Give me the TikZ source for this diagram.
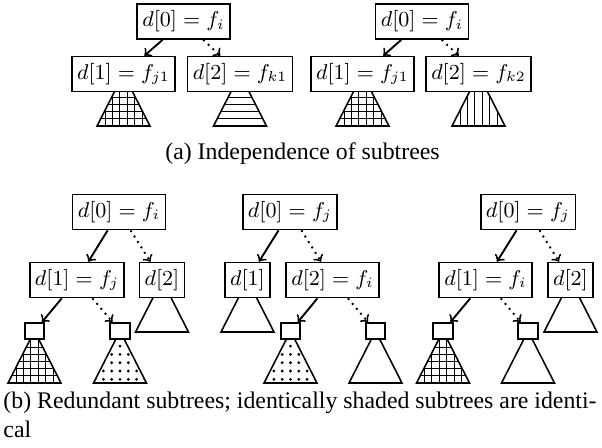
\documentclass[tikz,border=0pt]{standalone}
\usepackage{fontspec}
\newfontfamily\capfont{Liberation Serif}
\usetikzlibrary{backgrounds}
\tikzset{
  bx/.style={draw, fill=white, line width=0.65pt, inner xsep=2.2pt, inner ysep=0pt, minimum height=14.7pt, font=\fontsize{9}{11}\selectfont},
  sbx/.style={draw, fill=white, line width=0.65pt, inner sep=0pt, minimum width=8.2pt, minimum height=6.8pt},
  solidarr/.style={->, line width=0.8pt},
  dotarr/.style={->, line width=0.8pt, dash pattern=on 0.8pt off 1.9pt},
  tri/.style={line width=0.65pt},
  pat/.style={line width=0.35pt},
  captxt/.style={font=\capfont\fontsize{10}{12}\selectfont, inner sep=0pt}
}
\newcommand\hlpat{\foreach \k in {1,...,8} \draw[pat] (-30,{52-\k*7.2}) -- (30,{52-\k*7.2});}
\newcommand\vlpat{\foreach \k in {-4,...,3} \draw[pat] ({(\k+0.5)*7.4},0) -- ({(\k+0.5)*7.4},52);}
\newcommand\gridpat{\hlpat\vlpat}
\newcommand\dotpat{\foreach \i in {-3,...,3} \foreach \j in {0,...,5} \fill ({\i*8.3},{48.3-\j*8.3}) circle (0.65pt);}
\newcommand\nopat{}
% #1 node, #2 pattern macro
\newcommand\subtree[2]{%
  \begin{scope}[on background layer, shift={(#1.center)}]
    \begin{scope}
      \clip (0,0) -- (-26.5,52) -- (26.5,52) -- cycle;
      #2
    \end{scope}
    \draw[tri] (0,0) -- (-26.5,52) -- (26.5,52) -- cycle;
  \end{scope}}
\begin{document}
\begin{tikzpicture}[x=0.42pt, y=-0.42pt]
\useasboundingbox (0,0) rectangle (602,447);
% (a)
\node[bx] (a1) at (183.5,21.5) {$d[0] = f_i$};
\node[bx] (a1l) at (123.5,74) {$d[1] = f_{j1}$};
\node[bx] (a1r) at (240,74) {$d[2] = f_{k1}$};
\node[bx] (a2) at (422,21.5) {$d[0] = f_i$};
\node[bx] (a2l) at (362.5,74) {$d[1] = f_{j1}$};
\node[bx] (a2r) at (478.5,74) {$d[2] = f_{k2}$};
\subtree{a1l}{\gridpat}
\subtree{a1r}{\hlpat}
\subtree{a2l}{\gridpat}
\subtree{a2r}{\vlpat}
\draw[solidarr] (a1) -- (a1l);
\draw[dotarr] (a1) -- (a1r);
\draw[solidarr] (a2) -- (a2l);
\draw[dotarr] (a2) -- (a2r);
\node[captxt, anchor=base] (capa) at (302.5,159) {(a) Independence of subtrees};
% (b) tree 1
\node[bx] (b1) at (119,212) {$d[0] = f_i$};
\node[bx] (b1l) at (77,280) {$d[1] = f_j$};
\node[bx] (b1r) at (162,280) {$d[2]$};
\node[sbx] (b1ll) at (34.5,331) {};
\node[sbx] (b1lr) at (120,331) {};
\subtree{b1r}{\nopat}
\subtree{b1ll}{\gridpat}
\subtree{b1lr}{\dotpat}
\draw[solidarr] (b1) -- (b1l);
\draw[dotarr] (b1) -- (b1r);
\draw[solidarr] (b1l) -- (b1ll);
\draw[dotarr] (b1l) -- (b1lr);
% tree 2
\node[bx] (b2) at (290,212) {$d[0] = f_j$};
\node[bx] (b2l) at (247.5,280) {$d[1]$};
\node[bx] (b2r) at (332.5,280) {$d[2] = f_i$};
\node[sbx] (b2rl) at (290.5,331) {};
\node[sbx] (b2rr) at (375.5,331) {};
\subtree{b2l}{\nopat}
\subtree{b2rl}{\dotpat}
\subtree{b2rr}{\nopat}
\draw[solidarr] (b2) -- (b2l);
\draw[dotarr] (b2) -- (b2r);
\draw[solidarr] (b2r) -- (b2rl);
\draw[dotarr] (b2r) -- (b2rr);
% tree 3
\node[bx] (b3) at (528,212) {$d[0] = f_j$};
\node[bx] (b3l) at (485.5,280) {$d[1] = f_i$};
\node[bx] (b3r) at (570.5,280) {$d[2]$};
\node[sbx] (b3ll) at (443,331) {};
\node[sbx] (b3lr) at (528,331) {};
\subtree{b3r}{\nopat}
\subtree{b3ll}{\gridpat}
\subtree{b3lr}{\nopat}
\draw[solidarr] (b3) -- (b3l);
\draw[dotarr] (b3) -- (b3r);
\draw[solidarr] (b3l) -- (b3ll);
\draw[dotarr] (b3l) -- (b3lr);
% caption (b)
\node[captxt, anchor=base west] (capb1) at (3,408) {(b) Redundant subtrees; identically shaded subtrees are identi-};
\node[captxt, anchor=base west] (capb2) at (3,437) {cal};
\end{tikzpicture}
\end{document}
